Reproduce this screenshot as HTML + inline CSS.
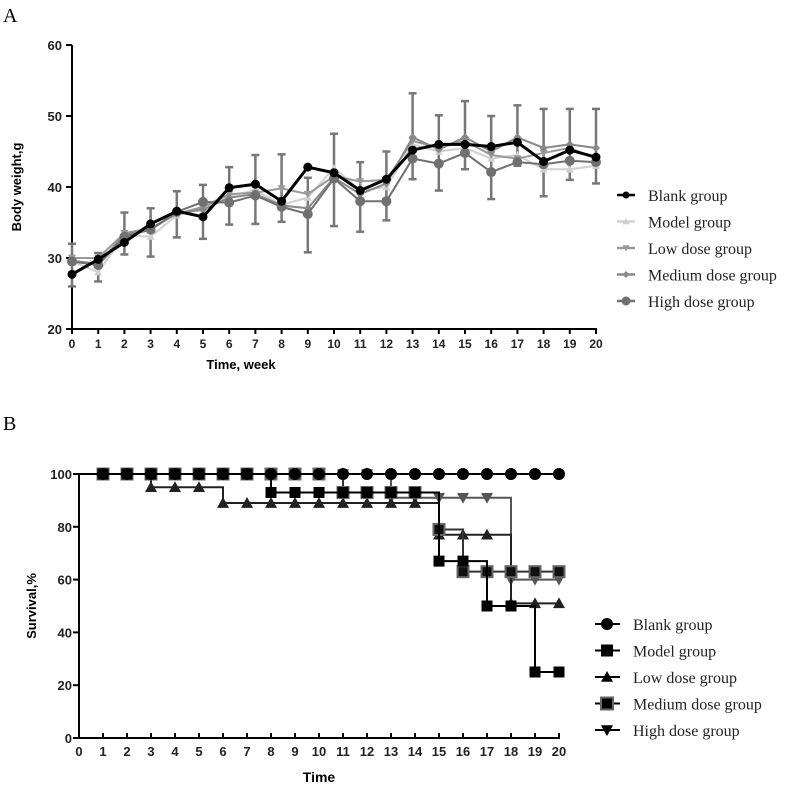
<!DOCTYPE html>
<html><head><meta charset="utf-8"><style>
body{margin:0;background:#fff;width:789px;height:786px;overflow:hidden}
svg{display:block;font-family:"Liberation Sans",Arial,sans-serif}
.ser{font-family:"Liberation Serif",serif}
</style></head><body>
<svg id="s" width="789" height="786"></svg>
<script>
// ---- Chart A data ----
const weeks=[0,1,2,3,4,5,6,7,8,9,10,11,12,13,14,15,16,17,18,19,20];
const blank=[27.7,29.8,32.2,34.8,36.6,35.8,39.9,40.4,38,42.8,42,39.5,41.1,45.2,46,46,45.7,46.3,43.6,45.2,44.2];
const model=[29.5,28,33.2,33,36,37,38.8,39.5,37.5,38.5,42.7,39.5,40,46,45,45.5,44,44.5,42.5,42.5,43];
const low=[30,30,33.5,34.2,36.2,37.2,39,39.2,39.8,39,41.5,40.8,41,46.5,45.5,46.5,44.5,44,44.8,45.5,44];
const medium=[29.6,29.2,33.3,34,36.3,36.8,38.5,39,37.4,37,41.3,39,40.5,47,45.3,47,45,47,45.5,46,45.5];
const high=[29.5,29,33,34,36.5,37.9,37.8,38.8,37.2,36.2,41.2,38,38,44,43.3,44.8,42.1,43.5,43.2,43.7,43.5];
const errHi=[32,30.7,36.4,37,39.4,40.3,42.8,44.5,44.6,41.3,47.5,43.5,45,53.2,50.1,52.1,50,51.5,51,51,51];
const errLo=[26,26.7,30.5,30.2,32.9,32.7,34.7,34.8,35.1,30.8,34.5,33.7,35.3,41.1,39.5,42.5,38.3,43,38.7,41,40.5];
const yTicksA=[20,30,40,50,60];
// ---- Chart B data ----
const times=[0,1,2,3,4,5,6,7,8,9,10,11,12,13,14,15,16,17,18,19,20];
const sBlank=[100,100,100,100,100,100,100,100,100,100,100,100,100,100,100,100,100,100,100,100,100];
const sModel=[100,100,100,100,100,100,100,100,93,93,93,93,93,93,93,67,67,50,50,25,25];
const sLow=[100,100,100,95,95,95,89,89,89,89,89,89,89,89,89,77,77,77,51,51,51];
const sMedium=[100,100,100,100,100,100,100,100,100,100,100,93,93,93,93,79,63,63,63,63,63];
const sHigh=[100,100,100,100,100,100,100,100,100,100,100,100,100,91,91,91,91,91,60,60,60];
const yTicksB=[0,20,40,60,80,100];

const S=document.getElementById('s'),NS='http://www.w3.org/2000/svg';
function el(t,a,p){const e=document.createElementNS(NS,t);for(const k in a)e.setAttribute(k,a[k]);(p||S).appendChild(e);return e}
function tx(x,y,s,a){const e=el('text',Object.assign({x:x,y:y},a));e.textContent=s;return e}
const xA=v=>72+v*26.2, yA=v=>329-(v-20)*7.1;
const xB=v=>79+v*24, yB=v=>738-v*2.64;

function marker(g,type,x,y,r,fill,stroke){
  let e;
  if(type==='c')e=el('circle',{cx:x,cy:y,r:r,fill:fill},g);
  else if(type==='s')e=el('rect',{x:x-r,y:y-r,width:2*r,height:2*r,fill:fill,stroke:stroke||'none','stroke-width':2},g);
  else if(type==='t')e=el('polygon',{points:`${x},${y-r} ${x-r},${y+r*0.8} ${x+r},${y+r*0.8}`,fill:fill},g);
  else if(type==='v')e=el('polygon',{points:`${x},${y+r} ${x-r},${y-r*0.8} ${x+r},${y-r*0.8}`,fill:fill},g);
  else if(type==='d')e=el('polygon',{points:`${x},${y-r} ${x-r},${y} ${x},${y+r} ${x+r},${y}`,fill:fill},g);
  return e;
}
// ===== Chart A =====
tx(3,22,'A',{'font-size':20,class:'ser',});
const gA=el('g',{});


el('line',{x1:72,y1:45,x2:72,y2:330,stroke:'#000','stroke-width':2},gA);
el('line',{x1:71,y1:329,x2:597,y2:329,stroke:'#000','stroke-width':2},gA);
yTicksA.forEach(v=>{el('line',{x1:66,x2:72,y1:yA(v),y2:yA(v),stroke:'#000','stroke-width':2},gA);
 tx(62,yA(v)+5,v,{'font-size':13,'font-weight':'bold','text-anchor':'end',fill:'#222'},gA)});
weeks.forEach(w=>{el('line',{x1:xA(w),x2:xA(w),y1:329,y2:334,stroke:'#000','stroke-width':2},gA);
 tx(xA(w),348,w,{'font-size':12,'font-weight':'bold','text-anchor':'middle',fill:'#222'},gA)});
tx(241,369,'Time, week',{'font-size':13,'font-weight':'bold','text-anchor':'middle'},gA);
tx(0,0,'Body weight,g',{'font-size':13,'font-weight':'bold','text-anchor':'middle',transform:'translate(21,187) rotate(-90)'},gA);
const eb=el('g',{stroke:'#777','stroke-width':2.5},gA);


weeks.forEach((w,i)=>{const x=xA(w);el('line',{x1:x,x2:x,y1:yA(errLo[i]),y2:yA(errHi[i])},eb);
 el('line',{x1:x-4,x2:x+4,y1:yA(errLo[i]),y2:yA(errLo[i])},eb);el('line',{x1:x-4,x2:x+4,y1:yA(errHi[i]),y2:yA(errHi[i])},eb)});
const seriesA=[['model-group',model,'#d0d0d0','t',4],['low-dose-group',low,'#999','v',4],['medium-dose-group',medium,'#888','d',4],['high-dose-group',high,'#707070','c',5],['blank-group',blank,'#000','c',4.5]];
seriesA.forEach(([n,d,c,m,r])=>{const g=el('g',{},gA);
 
 
 el('polyline',{points:d.map((v,i)=>xA(weeks[i])+','+yA(v)).join(' '),fill:'none',stroke:c,'stroke-width':n==='blank-group'?3:2},g);
 d.forEach((v,i)=>marker(g,m,xA(weeks[i]),yA(v),r,c))});
const legA=['Blank group','Model group','Low dose group','Medium dose group','High dose group'];
const legAcol=['#000','#d0d0d0','#999','#888','#707070'],legAm=['c','t','v','d','c'];
legA.forEach((l,i)=>{const y=195+i*26.5;const g=el('g',{});
 
 
 el('line',{x1:617,x2:635,y1:y,y2:y,stroke:legAcol[i],'stroke-width':2.5},g);marker(g,legAm[i],626,y,i==4?4.5:3.5,legAcol[i]);
 tx(648,y+6,l,{'font-size':16,class:'ser',fill:'#222'},g)});
// ===== Chart B =====
tx(3,430,'B',{'font-size':20,class:'ser',});
const gB=el('g',{});


el('line',{x1:79,y1:473,x2:79,y2:739,stroke:'#000','stroke-width':2},gB);
el('line',{x1:78,y1:738,x2:560,y2:738,stroke:'#000','stroke-width':2},gB);
yTicksB.forEach(v=>{el('line',{x1:73,x2:79,y1:yB(v),y2:yB(v),stroke:'#000','stroke-width':2},gB);
 tx(72,yB(v)+5,v,{'font-size':13,'font-weight':'bold','text-anchor':'end',fill:'#222'},gB)});
times.forEach(t=>{el('line',{x1:xB(t),x2:xB(t),y1:738,y2:733,stroke:'#000','stroke-width':2},gB);
 tx(xB(t),756,t,{'font-size':13,'font-weight':'bold','text-anchor':'middle',fill:'#222'},gB)});
tx(319,782,'Time',{'font-size':14,'font-weight':'bold','text-anchor':'middle'},gB);
tx(0,0,'Survival,%',{'font-size':13,'font-weight':'bold','text-anchor':'middle',transform:'translate(36,606) rotate(-90)'},gB);
const seriesB=[['high-dose-group',sHigh,'#555','v',6,null],['low-dose-group',sLow,'#222','t',6,null],['medium-dose-group',sMedium,'#333','s',5.5,'#666'],['model-group',sModel,'#000','s',5.5,null],['blank-group',sBlank,'#000','c',6,null]];
seriesB.forEach(([n,d,c,m,r,st])=>{const g=el('g',{},gB);
 
 
 let p='M'+xB(times[0])+','+yB(d[0]);
 for(let i=1;i<d.length;i++)p+=' H'+xB(times[i])+' V'+yB(d[i]);
 el('path',{d:p,fill:'none',stroke:c,'stroke-width':2},g);
 d.forEach((v,i)=>{if(i>0)marker(g,m,xB(times[i]),yB(v),r,m==='s'&&st?'#111':c,st)})});
const legB=['Blank group','Model group','Low dose group','Medium dose group','High dose group'],legBm=['c','s','t','s','v'];
legB.forEach((l,i)=>{const y=624+i*26.5;const g=el('g',{});
 
 
 el('line',{x1:595,x2:620,y1:y,y2:y,stroke:'#000','stroke-width':2},g);marker(g,legBm[i],607,y,6,'#000',i==3?'#666':null);
 tx(633,y+6,l,{'font-size':16,class:'ser',fill:'#222'},g)});
</script>
</body></html>
